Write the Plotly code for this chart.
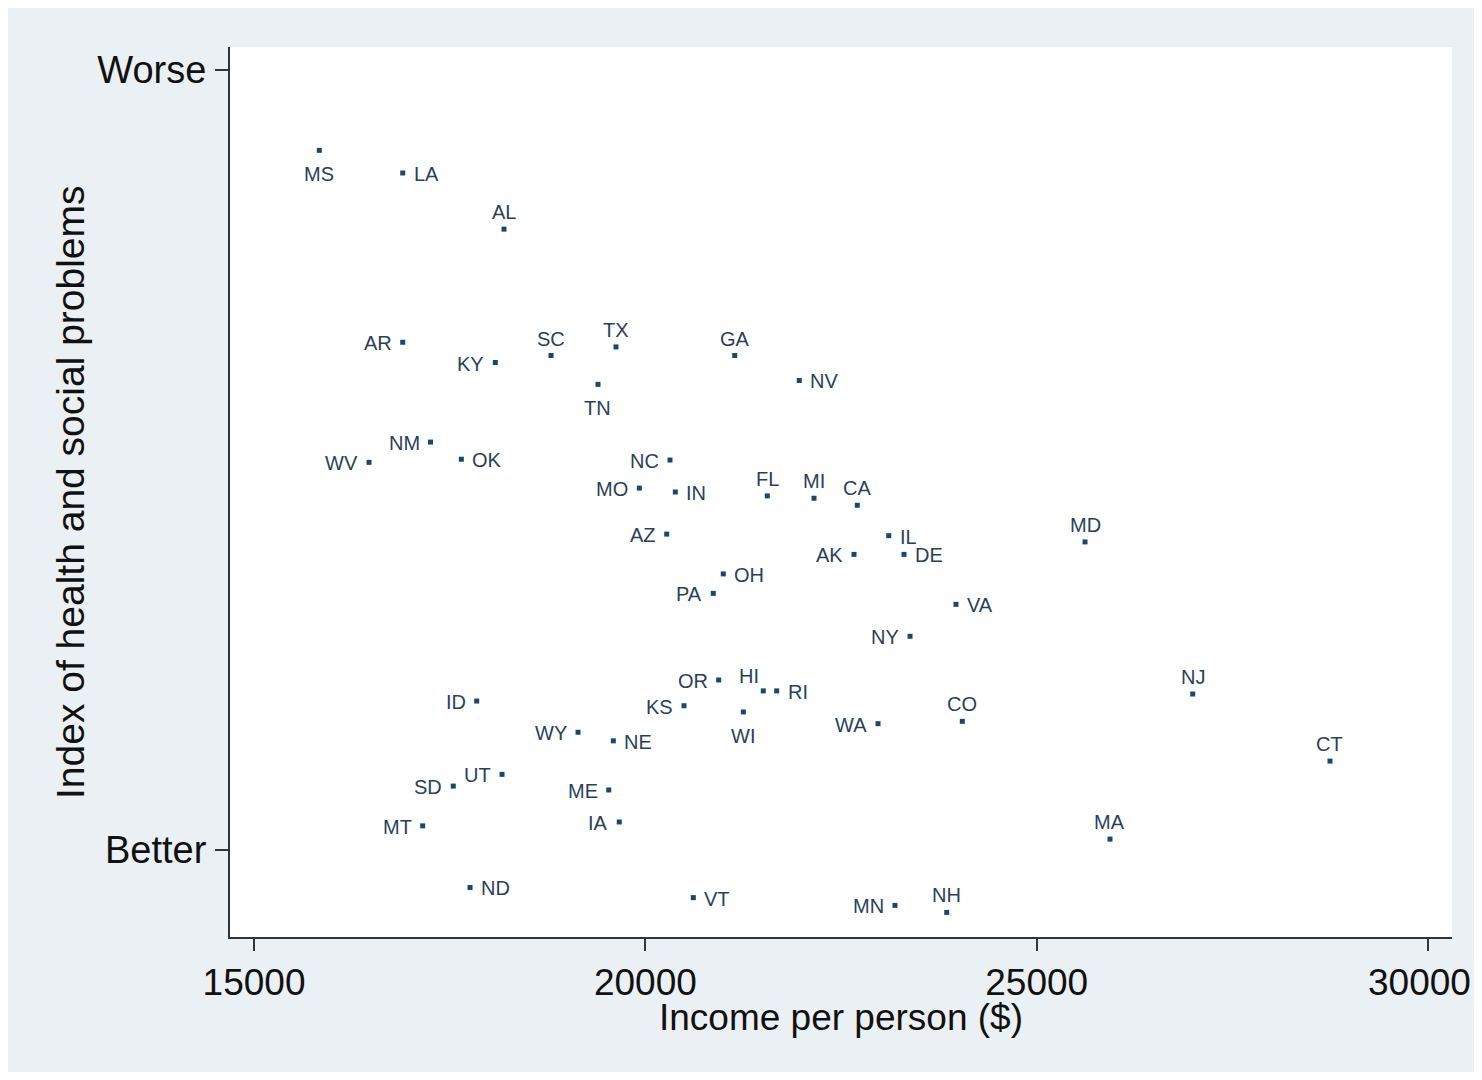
import plotly.graph_objects as go

# ---- data ----
states = ["MS", "LA", "AL", "AR", "KY", "SC", "TX", "TN", "NM", "WV", "OK",
          "GA", "NV", "NC", "MO", "IN", "FL", "MI", "CA", "AZ", "IL", "AK",
          "DE", "OH", "PA", "VA", "NY", "MD", "NJ", "CT", "MA", "HI", "RI",
          "WI", "WA", "CO", "MN", "NH", "ID", "OR", "KS", "WY", "NE", "UT",
          "SD", "ME", "MT", "IA", "ND", "VT"]

income = [15834, 16900, 18194, 16900, 18083, 18795, 19625, 19395, 17255, 16469, 17649,
          21142, 21967, 20315, 19923, 20383, 21558, 22155, 22708, 20273, 23110, 22666,
          23305, 20996, 20868, 23969, 23382, 25618, 26994, 28748, 25937, 21507, 21678,
          21252, 22973, 24050, 23190, 23851, 17845, 20937, 20494, 19140, 19591, 18169,
          17546, 19532, 17155, 19667, 17760, 20613]

problems_index = [8.97, 8.68, 7.96, 6.51, 6.25, 6.34, 6.45, 5.97, 5.23, 4.97, 5.01,
                  6.34, 6.02, 5.00, 4.64, 4.59, 4.54, 4.51, 4.42, 4.05, 4.03, 3.79,
                  3.79, 3.54, 3.29, 3.15, 2.74, 3.95, 2.00, 1.14, 0.14, 2.04, 2.04,
                  1.77, 1.62, 1.65, -0.71, -0.80, 1.91, 2.18, 1.85, 1.51, 1.40, 0.97,
                  0.82, 0.77, 0.31, 0.36, -0.48, -0.61]

y_tick_values = [0, 10]
y_tick_labels = ["Better", "Worse"]
x_tick_values = [15000, 20000, 25000, 30000]
x_tick_labels = ["15000", "20000", "25000", "30000"]

x_title = "Income per person ($)"
y_title = "Index of health and social problems"

# ---- label placement (style): clock-like position of each label ----
label_pos = {
    "MS": "b", "LA": "r", "AL": "t", "AR": "l", "KY": "l", "SC": "t", "TX": "t",
    "TN": "b", "NM": "l", "WV": "l", "OK": "r", "GA": "t", "NV": "r", "NC": "l",
    "MO": "l", "IN": "r", "FL": "t", "MI": "t", "CA": "t", "AZ": "l", "IL": "r",
    "AK": "l", "DE": "r", "OH": "r", "PA": "l", "VA": "r", "NY": "l", "MD": "t",
    "NJ": "t", "CT": "t", "MA": "t", "HI": "tl", "RI": "r", "WI": "b", "WA": "l",
    "CO": "t", "MN": "l", "NH": "t", "ID": "l", "OR": "l", "KS": "l", "WY": "l",
    "NE": "r", "UT": "l", "SD": "l", "ME": "l", "MT": "l", "IA": "l", "ND": "r",
    "VT": "r",
}
# (xanchor, xshift px, yshift px)
pos_style = {
    "r": ("left", 9, -1),
    "l": ("right", -9, -1),
    "t": ("center", 0, 17),
    "b": ("center", 0, -24),
    "tl": ("center", -14, 15),
}

NAVY = "#1a476f"
LABEL = "#2a3f5a"
BG = "#eaf0f3"
AXIS = "#333333"
TEXT = "#111111"
FONT = "Liberation Sans, Arial, sans-serif"

# the last x tick label sits at the page edge: draw it right-aligned as a
# separate text so it stays inside the picture
x_tick_text = x_tick_labels[:-1] + [""]

fig = go.Figure()
fig.add_trace(go.Scatter(
    x=income, y=problems_index, mode="markers",
    marker=dict(symbol="square", size=5, color=NAVY),
    hoverinfo="skip", showlegend=False,
))

annotations = []
for s, xv, yv in zip(states, income, problems_index):
    xa, xs, ys = pos_style[label_pos[s]]
    annotations.append(dict(
        x=xv, y=yv, xref="x", yref="y", text=s, showarrow=False,
        xanchor=xa, yanchor="middle", xshift=xs, yshift=ys,
        font=dict(family=FONT, size=20, color=LABEL),
    ))

annotations.append(dict(
    x=x_tick_values[-1], y=0, xref="x", yref="paper", text=x_tick_labels[-1],
    showarrow=False, xanchor="right", yanchor="middle", xshift=45, yshift=-45,
    font=dict(family=FONT, size=37, color=TEXT),
))

# axis titles
annotations.append(dict(
    x=0.5, y=0, xref="paper", yref="paper", text=x_title, showarrow=False,
    xanchor="center", yanchor="middle", yshift=-80,
    font=dict(family=FONT, size=37, color=TEXT),
))
annotations.append(dict(
    x=0, y=0.5, xref="paper", yref="paper", text=y_title, showarrow=False,
    xanchor="center", yanchor="middle", xshift=-160, textangle=-90,
    font=dict(family=FONT, size=39, color=TEXT),
))

fig.update_layout(
    width=1466, height=1064,
    paper_bgcolor=BG, plot_bgcolor="white",
    margin=dict(l=222, r=22, t=39, b=135),
    font=dict(family=FONT, color=TEXT),
    showlegend=False,
    annotations=annotations,
)

fig.update_xaxes(
    range=[14693, 30307], automargin=False,
    tickvals=x_tick_values, ticktext=x_tick_text,
    ticks="outside", ticklen=12, tickwidth=1.5, tickcolor=AXIS,
    showline=True, linecolor=AXIS, linewidth=2,
    showgrid=False, zeroline=False,
    tickfont=dict(size=37, family=FONT, color=TEXT),
    ticklabelstandoff=0,
)
fig.update_yaxes(
    range=[-1.115, 10.295], automargin=False,
    tickvals=y_tick_values, ticktext=y_tick_labels,
    ticks="outside", ticklen=13, tickwidth=1.5, tickcolor=AXIS,
    showline=True, linecolor=AXIS, linewidth=2,
    showgrid=False, zeroline=False,
    tickfont=dict(size=38, family=FONT, color=TEXT),
    ticklabelstandoff=1,
)

fig.write_html("out.html")
